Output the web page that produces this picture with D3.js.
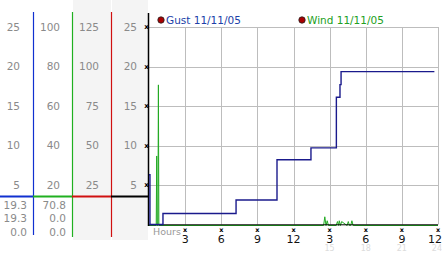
<!DOCTYPE html>
<html>
<head>
<meta charset="utf-8">
<script src="https://cdn.jsdelivr.net/npm/d3@7"></script>
<style>
  body { margin: 0; background: #fff; }
  svg { display: block; font-family: "DejaVu Sans", sans-serif; }
</style>
</head>
<body>
<svg id="plot"></svg>
<script>
// Gust readings (hours since midnight, mph), drawn as steps
const gustHours = [0, 0.08, 1.16, 7.23, 10.63, 13.45, 15.56, 15.86, 15.95, 23.7];
const gustValues = [6.3, 0, 1.4, 3.1, 8.2, 9.7, 16.1, 17.7, 19.35, 19.35];

// Wind readings
const windHours = [0, 0.6, 0.64, 0.68, 0.74, 0.78, 0.82, 14.5, 14.6, 14.7, 14.8, 14.9,
  15.55, 15.65, 15.75, 15.8, 15.9, 16.0, 16.45, 16.55, 16.65, 16.75, 16.85, 16.95, 24];
const windValues = [0, 0, 8.8, 0, 0, 17.8, 0, 0, 1.1, 0, 0.6, 0,
  0, 0.5, 0, 0.6, 0, 0.5, 0, 0.5, 0, 0, 0.6, 0, 0];

// Tick labels
const yTicks = [5, 10, 15, 20, 25];
const colTicks = [
  [5, 10, 15, 20, 25],
  [20, 40, 60, 80, 100],
  [25, 50, 75, 100, 125],
  [5, 10, 15, 20, 25]
];
const hourTicks = [3, 6, 9, 12, 15, 18, 21, 24];
const hourLabels = ["3", "6", "9", "12", "3", "6", "9", "12"];
const hourSubLabels = ["", "", "", "", "15", "18", "21", "24"];
const summary = [["19.3", "19.3", "0.0"], ["70.8", "0.0", "0.0"]];

const width = 442, height = 253;
const svg = d3.select("#plot").attr("width", width).attr("height", height);

const x = d3.scaleLinear().domain([0, 24]).range([149, 438]);
const y = d3.scaleLinear().domain([0, 25]).range([224.5, 27]);

// left value columns
const colEdges = [0, 33, 72, 111, 148];
const colColors = ["#1030d0", "#20b020", "#d01010", "#000"];
const colRight = [20, 60, 99, 137];

svg.selectAll("rect.bg")
  .data([2, 3])
  .join("rect")
    .attr("class", "bg")
    .attr("x", i => colEdges[i] + 1)
    .attr("y", 0)
    .attr("width", i => colEdges[i + 1] - colEdges[i] - 1)
    .attr("height", 240)
    .attr("fill", "#f4f4f4");

colTicks.forEach((ticks, c) => {
  svg.append("g").selectAll("text")
    .data(ticks)
    .join("text")
      .attr("x", colRight[c])
      .attr("y", (d, i) => y(yTicks[i]))
      .attr("dy", "0.35em")
      .attr("text-anchor", "end")
      .attr("font-size", 10.5)
      .attr("fill", "#8a8a8a")
      .text(d => d);
});

summary.forEach((vals, c) => {
  svg.append("g").selectAll("text")
    .data(vals)
    .join("text")
      .attr("x", c === 0 ? 27 : 66)
      .attr("y", (d, i) => 205 + i * 13.5)
      .attr("dy", "0.35em")
      .attr("text-anchor", "end")
      .attr("font-size", 10.5)
      .attr("fill", "#8a8a8a")
      .text(d => d);
});

// column dividers
svg.append("g").selectAll("line")
  .data([0, 1, 2])
  .join("line")
    .attr("x1", i => colEdges[i + 1] + 0.5)
    .attr("x2", i => colEdges[i + 1] + 0.5)
    .attr("y1", 12)
    .attr("y2", i => i === 0 ? 235 : 237)
    .attr("stroke", i => colColors[i])
    .attr("stroke-width", 1.2);

// colored level bar across columns
svg.append("g").selectAll("line")
  .data(colColors)
  .join("line")
    .attr("x1", (d, i) => colEdges[i])
    .attr("x2", (d, i) => colEdges[i + 1])
    .attr("y1", 196.5).attr("y2", 196.5)
    .attr("stroke", d => d)
    .attr("stroke-width", 2);

// grid
svg.append("g").selectAll("line")
  .data(yTicks)
  .join("line")
    .attr("x1", x(0)).attr("x2", x(24))
    .attr("y1", d => Math.round(y(d)) + 0.5).attr("y2", d => Math.round(y(d)) + 0.5)
    .attr("stroke", "#bdbdbd");

svg.append("g").selectAll("line")
  .data(hourTicks)
  .join("line")
    .attr("x1", d => Math.round(x(d)) + 0.5).attr("x2", d => Math.round(x(d)) + 0.5)
    .attr("y1", y(25)).attr("y2", y(0))
    .attr("stroke", "#bdbdbd");

// left axis tick marks
svg.append("g").selectAll("text")
  .data(yTicks)
  .join("text")
    .attr("x", 146.5)
    .attr("y", d => y(d))
    .attr("dy", "0.35em")
    .attr("text-anchor", "middle")
    .attr("font-size", 7)
    .attr("font-weight", "bold")
    .text("x");

// wind line
const windLine = d3.line()
  .x(d => x(d[0]))
  .y(d => y(d[1]) + 1);
svg.append("path")
  .datum(windHours.map((h, i) => [h, windValues[i]]))
  .attr("fill", "none")
  .attr("stroke", "#22aa22")
  .attr("stroke-width", 1)
  .attr("d", windLine);

// axes lines
svg.append("line")
  .attr("x1", 148.5).attr("x2", 148.5)
  .attr("y1", 13).attr("y2", 226)
  .attr("stroke", "#000").attr("stroke-width", 1.5);
svg.append("line")
  .attr("x1", 148).attr("x2", x(24))
  .attr("y1", 224.8).attr("y2", 224.8)
  .attr("stroke", "#000").attr("stroke-width", 1);

// gust line
const gustLine = d3.line()
  .curve(d3.curveStepAfter)
  .x(d => x(d[0]))
  .y(d => y(d[1]));
svg.append("path")
  .datum(gustHours.map((h, i) => [h, gustValues[i]]))
  .attr("fill", "none")
  .attr("stroke", "#1a1a8c")
  .attr("stroke-width", 1.4)
  .attr("d", gustLine);

// x axis labels
svg.append("text")
  .attr("x", 153).attr("y", 232)
  .attr("dy", "0.35em")
  .attr("font-size", 9.5)
  .attr("fill", "#999")
  .text("Hours");

const xt = svg.append("g").selectAll("g")
  .data(hourTicks)
  .join("g")
    .attr("transform", d => `translate(${x(d)},0)`);
xt.append("text")
  .attr("y", 229.5).attr("dy", "0.35em")
  .attr("text-anchor", "middle")
  .attr("font-size", 6.5).attr("font-weight", "bold")
  .text("x");
xt.append("text")
  .attr("y", 239).attr("dy", "0.35em")
  .attr("text-anchor", "middle")
  .attr("font-size", 11)
  .attr("fill", "#111")
  .text((d, i) => i === hourTicks.length - 1 ? null : hourLabels[i]);
// last label sits at the right edge, anchored so it stays visible
svg.append("text")
  .attr("x", width).attr("y", 239).attr("dy", "0.35em")
  .attr("text-anchor", "end")
  .attr("font-size", 11)
  .attr("fill", "#111")
  .text(hourLabels[hourLabels.length - 1]);
xt.append("text")
  .attr("y", 248.3).attr("dy", "0.35em")
  .attr("text-anchor", "middle")
  .attr("font-size", 8)
  .attr("fill", "#dcdcdc")
  .text((d, i) => i === hourTicks.length - 1 ? null : hourSubLabels[i]);
svg.append("text")
  .attr("x", width).attr("y", 248.3).attr("dy", "0.35em")
  .attr("text-anchor", "end")
  .attr("font-size", 8)
  .attr("fill", "#dcdcdc")
  .text(hourSubLabels[hourSubLabels.length - 1]);

// legend
const legend = [
  {name: "Gust 11/11/05", color: "#2040a8", x: 161},
  {name: "Wind 11/11/05", color: "#22a022", x: 302}
];
const lg = svg.append("g").selectAll("g")
  .data(legend)
  .join("g")
    .attr("transform", d => `translate(${d.x},20)`);
lg.append("circle")
  .attr("r", 3.2)
  .attr("fill", "#aa0000")
  .attr("stroke", "#222")
  .attr("stroke-width", 0.8);
lg.append("text")
  .attr("x", 5).attr("dy", "0.35em")
  .attr("font-size", 10.5)
  .attr("fill", d => d.color)
  .text(d => d.name);
</script>
</body>
</html>
